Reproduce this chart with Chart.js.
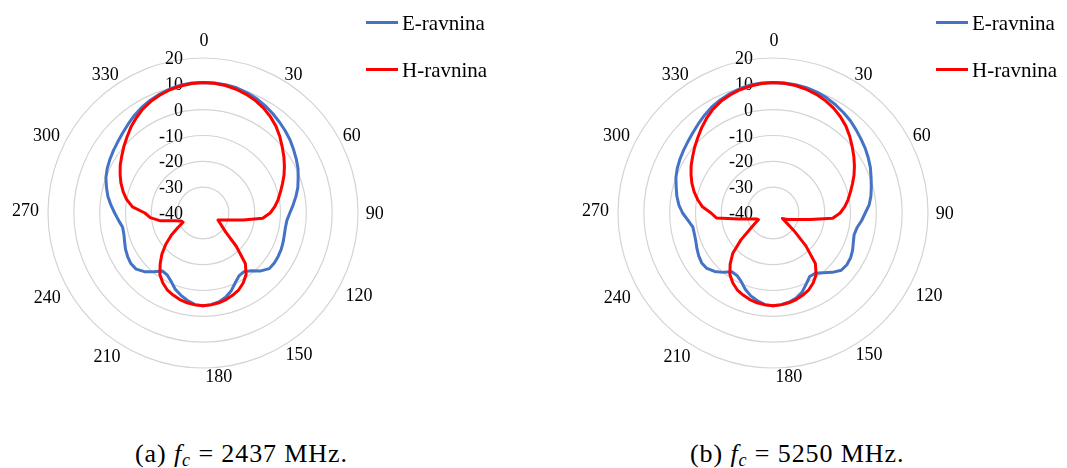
<!DOCTYPE html>
<html>
<head>
<meta charset="utf-8">
<script src="https://cdn.jsdelivr.net/npm/chart.js@4.4.1/dist/chart.umd.min.js"></script>
<style>
  body { margin: 0; background: #fff; width: 1067px; height: 468px; position: relative; overflow: hidden; font-family: "Liberation Serif", serif; }
  canvas { position: absolute; top: 0; }
  #chartA { left: 0; }
  #chartB { left: 570px; }
  .leg { position: absolute; font-size: 21px; line-height: 21px; color: #000; white-space: nowrap; }
  .leg i { position: absolute; left: -36px; top: 8px; width: 32px; height: 3px; }
  .cap { position: absolute; top: 439px; font-size: 26px; line-height: 30px; color: #000; white-space: nowrap; letter-spacing: 0.9px; }
  .cap sub { font-size: 18px; font-style: italic; vertical-align: -4px; }
</style>
</head>
<body>
<canvas id="chartA" width="420" height="420"></canvas>
<canvas id="chartB" width="420" height="420"></canvas>

<div class="leg" style="left:402px; top:13px;"><i style="background:#4472c4"></i>E-ravnina</div>
<div class="leg" style="left:402px; top:60px;"><i style="background:#ff0000"></i>H-ravnina</div>
<div class="leg" style="left:972px; top:13px;"><i style="background:#4472c4"></i>E-ravnina</div>
<div class="leg" style="left:972px; top:60px;"><i style="background:#ff0000"></i>H-ravnina</div>

<div class="cap" style="left:135px;">(a) <i>f</i><sub>c</sub> = 2437 MHz.</div>
<div class="cap" style="left:690px;">(b) <i>f</i><sub>c</sub> = 5250 MHz.</div>

<script>
// kut u stupnjevima (svakih 5)
const angles = [0, 5, 10, 15, 20, 25, 30, 35, 40, 45, 50, 55, 60, 65, 70, 75, 80, 85,
  90, 95, 100, 105, 110, 115, 120, 125, 130, 135, 140, 145, 150, 155, 160, 165, 170, 175,
  180, 185, 190, 195, 200, 205, 210, 215, 220, 225, 230, 235, 240, 245, 250, 255, 260, 265,
  270, 275, 280, 285, 290, 295, 300, 305, 310, 315, 320, 325, 330, 335, 340, 345, 350, 355];

const radialTicks = [-40, -30, -20, -10, 0, 10, 20];

// (a) fc = 2437 MHz
const eA = [10.5, 10.5, 10.4, 10.2, 9.6, 8.9, 8.0, 7.0, 6.0, 5.0, 4.0, 2.8, 1.7, 0.6, -0.8, -2.0, -3.5, -5.0,
  -6.4, -7.4, -7.6, -7.4, -7.0, -6.6, -6.4, -6.3, -6.5, -8.3, -10.8, -12.3, -12.0, -10.3, -8.0, -6.2, -5.0, -4.4,
  -4.1, -4.4, -5.6, -7.0, -8.6, -10.8, -12.3, -12.6, -10.3, -7.9, -6.2, -5.9, -6.3, -6.9, -7.7, -8.3, -8.4, -7.2,
  -5.8, -4.2, -2.6, -1.3, 0.0, 0.9, 1.6, 2.3, 3.0, 3.9, 5.0, 6.2, 7.3, 8.2, 9.0, 9.7, 10.2, 10.5];
const hA = [10.5, 10.4, 10.1, 9.6, 8.9, 8.0, 6.9, 5.5, 3.9, 2.0, 0.0, -1.8, -3.6, -5.4, -7.3, -9.0, -10.5, -12.1,
  -14.0, -16.8, -24.2, -29.5, -32.1, -33.6, -32.5, -31.0, -28.5, -21.8, -14.5, -10.9, -8.8, -7.2, -6.2, -5.3, -4.7, -4.3,
  -4.1, -4.3, -4.7, -5.3, -6.2, -7.2, -8.8, -10.9, -14.2, -17.5, -21.2, -25.1, -28.8, -31.5, -31.0, -28.5, -23.0, -19.5,
  -17.5, -12.6, -10.0, -8.0, -6.2, -4.6, -3.0, -1.6, 0.0, 1.6, 3.4, 5.0, 6.5, 7.7, 8.6, 9.4, 9.9, 10.3];

// (b) fc = 5250 MHz
const eB = [10.5, 10.5, 10.4, 10.2, 9.8, 9.2, 8.4, 7.5, 6.6, 5.5, 4.5, 3.6, 2.6, 1.6, 0.4, -0.6, -1.5, -2.6,
  -4.3, -5.6, -7.0, -7.5, -6.9, -6.0, -5.3, -5.1, -5.5, -7.5, -9.8, -11.5, -11.6, -9.6, -7.3, -5.8, -4.9, -4.4,
  -4.1, -4.4, -5.5, -6.8, -8.6, -10.8, -12.1, -12.2, -10.0, -8.0, -6.6, -6.3, -6.8, -7.5, -8.2, -8.5, -8.5, -7.0,
  -5.0, -3.4, -2.2, -1.2, 0.0, 0.9, 1.6, 2.3, 3.0, 3.9, 5.0, 6.2, 7.4, 8.3, 9.1, 9.8, 10.3, 10.5];
const hB = [10.5, 10.4, 10.1, 9.6, 8.9, 8.0, 6.9, 5.5, 3.9, 2.0, 0.0, -1.8, -3.6, -5.4, -7.3, -9.0, -10.5, -12.1,
  -14.0, -16.8, -25.5, -30.3, -32.6, -34.0, -35.8, -34.0, -29.5, -22.0, -14.5, -10.9, -8.8, -7.2, -6.2, -5.3, -4.7, -4.3,
  -4.1, -4.3, -4.7, -5.3, -6.2, -7.2, -8.8, -10.9, -14.2, -18.0, -23.8, -29.2, -31.9, -33.8, -33.2, -31.0, -26.6, -18.0,
  -16.0, -12.6, -10.4, -8.4, -6.6, -5.0, -3.4, -2.0, -0.4, 1.2, 3.0, 4.8, 6.4, 7.7, 8.6, 9.4, 9.9, 10.3];

// gdje stoje oznake kutova (smjer u stupnjevima, udaljenost od sredista)
const labelSpots = {
  0: [0.3, 172.8], 30: [33, 166], 60: [62.3, 168], 90: [90, 171.7],
  120: [117.6, 176], 150: [145.8, 171], 180: [174.5, 164], 210: [213.9, 172],
  240: [241.6, 177], 270: [271, 177.5], 300: [296.6, 175], 330: [324.8, 169.5]
};

const axisText = {
  id: 'axisText',
  beforeDatasetsDraw(chart) {
    const s = chart.scales.r;
    const ctx = chart.ctx;
    ctx.save();
    ctx.font = '18px "Liberation Serif"';
    ctx.fillStyle = '#000';
    ctx.textBaseline = 'alphabetic';
    // vrijednosti (dB) uz okomitu os
    ctx.textAlign = 'right';
    radialTicks.forEach(v => {
      const y = s.yCenter - s.getDistanceFromCenterForValue(v);
      ctx.fillText(String(v), s.xCenter - 20, y + 6);
    });
    // kutovi
    ctx.textAlign = 'center';
    Object.keys(labelSpots).forEach(k => {
      const [a, d] = labelSpots[k];
      const p = s.getPointPosition(a / 5, d);
      ctx.fillText(k, p.x, p.y + 6);
    });
    ctx.restore();
  }
};

function makeChart(id, eData, hData) {
  return new Chart(document.getElementById(id), {
    type: 'radar',
    data: {
      labels: angles,
      datasets: [
        { label: 'E-ravnina', data: eData, borderColor: '#4472c4', borderWidth: 3, pointRadius: 0, fill: false, borderJoinStyle: 'round', order: 1 },
        { label: 'H-ravnina', data: hData, borderColor: '#ff0000', borderWidth: 3, pointRadius: 0, fill: false, borderJoinStyle: 'round', order: 0 }
      ]
    },
    options: {
      responsive: false,
      animation: false,
      layout: { padding: { left: 48, right: 62, top: 58, bottom: 52 } },
      plugins: { legend: { display: false }, tooltip: { enabled: false } },
      scales: {
        r: {
          min: -40,
          max: 20,
          ticks: { stepSize: 10, display: false },
          grid: { circular: true, color: '#d4d4d4', lineWidth: 1.2 },
          angleLines: { display: false },
          pointLabels: { display: false }
        }
      }
    },
    plugins: [axisText]
  });
}

makeChart('chartA', eA, hA);
makeChart('chartB', eB, hB);
</script>
</body>
</html>
